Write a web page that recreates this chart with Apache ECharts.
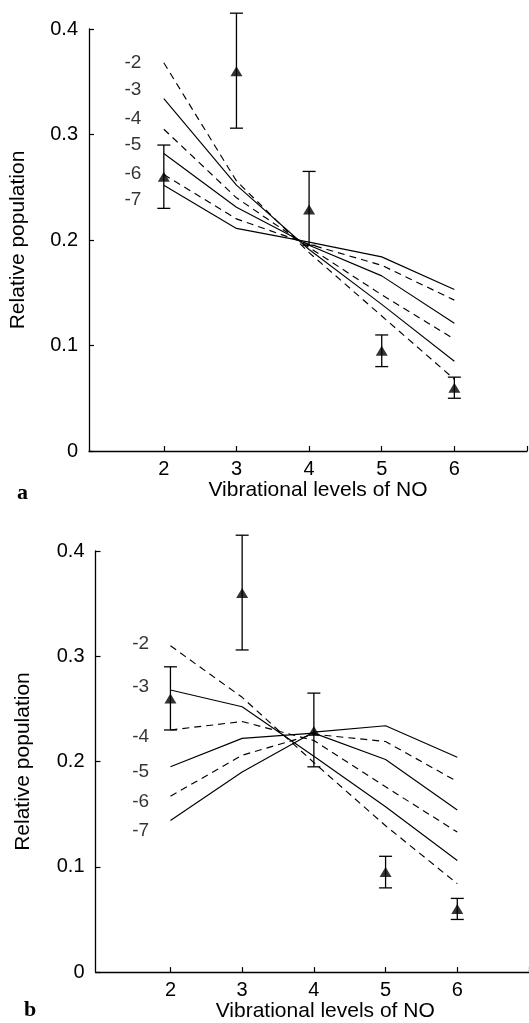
<!DOCTYPE html>
<html>
<head>
<meta charset="utf-8">
<script src="https://cdn.jsdelivr.net/npm/echarts@6/dist/echarts.min.js"></script>
<style>html,body{margin:0;padding:0;background:#fff;}#c{width:529px;height:1023px;}</style>
</head>
<body>
<div id="c"></div>
<script>
// ---- data ----
const levels = [2, 3, 4, 5, 6];
const xTicks = [2, 3, 4, 5, 6, 7];
const xLabels = [2, 3, 4, 5, 6];
const curveNames = ['-2', '-3', '-4', '-5', '-6', '-7'];
const obsMean = [0.260, 0.360, 0.229, 0.095, 0.060];
const obsLow  = [0.230, 0.306, 0.195, 0.080, 0.050];
const obsHigh = [0.290, 0.415, 0.265, 0.110, 0.070];

const panelA_m2 = [0.368, 0.256, 0.188, 0.128, 0.068];
const panelA_m3 = [0.334, 0.252, 0.191, 0.139, 0.085];
const panelA_m4 = [0.305, 0.240, 0.193, 0.148, 0.106];
const panelA_m5 = [0.282, 0.231, 0.195, 0.166, 0.121];
const panelA_m6 = [0.262, 0.220, 0.196, 0.176, 0.143];
const panelA_m7 = [0.252, 0.211, 0.198, 0.184, 0.153];

const panelB_m2 = [0.310, 0.261, 0.199, 0.139, 0.084];
const panelB_m3 = [0.268, 0.252, 0.205, 0.157, 0.106];
const panelB_m4 = [0.230, 0.238, 0.220, 0.176, 0.133];
const panelB_m5 = [0.195, 0.222, 0.227, 0.202, 0.154];
const panelB_m6 = [0.167, 0.206, 0.226, 0.219, 0.181];
const panelB_m7 = [0.144, 0.190, 0.228, 0.234, 0.204];

// ---- build ----
const FONT = 'Liberation Sans';
const curvesA = [panelA_m2, panelA_m3, panelA_m4, panelA_m5, panelA_m6, panelA_m7];
const curvesB = [panelB_m2, panelB_m3, panelB_m4, panelB_m5, panelB_m6, panelB_m7];
// annotation anchors (data coords) for the curve labels
const annA = { x: 1.575, y: [0.368, 0.342, 0.315, 0.290, 0.263, 0.238] };
const annB = { x: 1.585, y: [0.312, 0.271, 0.224, 0.190, 0.162, 0.134] };

function xAxis(gi, min, padLeft) {
  return {
    type: 'value', gridIndex: gi, min: min, max: 7,
    name: 'Vibrational levels of NO', nameLocation: 'middle', nameGap: gi === 0 ? 28 : 26,
    nameTextStyle: { fontFamily: FONT, fontSize: 21, color: '#000', padding: [0, 0, 0, padLeft] },
    axisLine: { show: true, onZero: false, lineStyle: { color: '#000', width: 1.3 } },
    axisTick: { show: true, inside: true, length: 5, customValues: xTicks, lineStyle: { color: '#000', width: 1.2 } },
    axisLabel: { customValues: xLabels, margin: 8, fontFamily: FONT, fontSize: 20, color: '#000' },
    splitLine: { show: false }
  };
}
function yAxis(gi, gap) {
  return {
    type: 'value', gridIndex: gi, min: 0, max: 0.4, interval: 0.1,
    name: 'Relative population', nameLocation: 'middle', nameRotate: 90, nameGap: gap,
    nameTextStyle: { fontFamily: FONT, fontSize: 21, color: '#000' },
    axisLine: { show: true, onZero: false, lineStyle: { color: '#000', width: 1.3 } },
    axisTick: { show: true, inside: true, length: 5, lineStyle: { color: '#000', width: 1.2 } },
    axisLabel: { margin: 11, fontFamily: FONT, fontSize: 20, color: '#000',
      formatter: v => (v === 0 ? '0' : v.toFixed(1)) },
    splitLine: { show: false }
  };
}

const series = [];
[curvesA, curvesB].forEach((curves, gi) => {
  curves.forEach((vals, k) => {
    series.push({
      type: 'line', xAxisIndex: gi, yAxisIndex: gi, name: curveNames[k],
      data: levels.map((x, i) => [x, vals[i]]),
      symbol: 'none', silent: true, animation: false,
      lineStyle: { color: '#000', width: 1.15, type: k % 2 === 0 ? [7, 5] : 'solid' }
    });
  });
  // error bars
  series.push({
    type: 'custom', xAxisIndex: gi, yAxisIndex: gi, silent: true, animation: false,
    data: levels.map((x, i) => [x, obsLow[i], obsHigh[i]]),
    renderItem: function (params, api) {
      const lo = api.coord([api.value(0), api.value(1)]);
      const hi = api.coord([api.value(0), api.value(2)]);
      const w = 6.5;
      const st = { stroke: '#000', lineWidth: 1.3 };
      return { type: 'group', children: [
        { type: 'line', shape: { x1: lo[0], y1: lo[1], x2: hi[0], y2: hi[1] }, style: st },
        { type: 'line', shape: { x1: lo[0] - w, y1: lo[1], x2: lo[0] + w, y2: lo[1] }, style: st },
        { type: 'line', shape: { x1: hi[0] - w, y1: hi[1], x2: hi[0] + w, y2: hi[1] }, style: st }
      ]};
    }
  });
  // observed points
  series.push({
    type: 'scatter', xAxisIndex: gi, yAxisIndex: gi, silent: true, animation: false,
    data: levels.map((x, i) => [x, obsMean[i]]),
    symbol: 'triangle', symbolSize: [12, 10], itemStyle: { color: '#000' }, z: 5
  });
  // curve labels
  const ann = gi === 0 ? annA : annB;
  series.push({
    type: 'scatter', xAxisIndex: gi, yAxisIndex: gi, silent: true, animation: false,
    symbolSize: 0,
    data: curveNames.map((n, k) => ({ value: [ann.x, ann.y[k]], name: n })),
    label: { show: true, position: 'inside', formatter: p => p.name,
      fontFamily: FONT, fontSize: 19, color: '#000' }
  });
});

const option = {
  backgroundColor: '#fff',
  animation: false,
  grid: [
    { left: 88, right: 2, top: 29, height: 422 },
    { left: 95.5, right: -3, top: 551, height: 425 }
  ],
  xAxis: [xAxis(0, 0.97, 20), xAxis(1, 0.955, 26)],
  yAxis: [yAxis(0, 60), yAxis(1, 62)],
  graphic: [
    { type: 'text', left: 17, top: 482, style: { text: 'a', font: 'bold 22px "Liberation Serif"', fill: '#000' } },
    { type: 'text', left: 24, top: 999, style: { text: 'b', font: 'bold 22px "Liberation Serif"', fill: '#000' } }
  ],
  series: series
};
const chart = echarts.init(document.getElementById('c'));
chart.setOption(option);
</script>
</body>
</html>
